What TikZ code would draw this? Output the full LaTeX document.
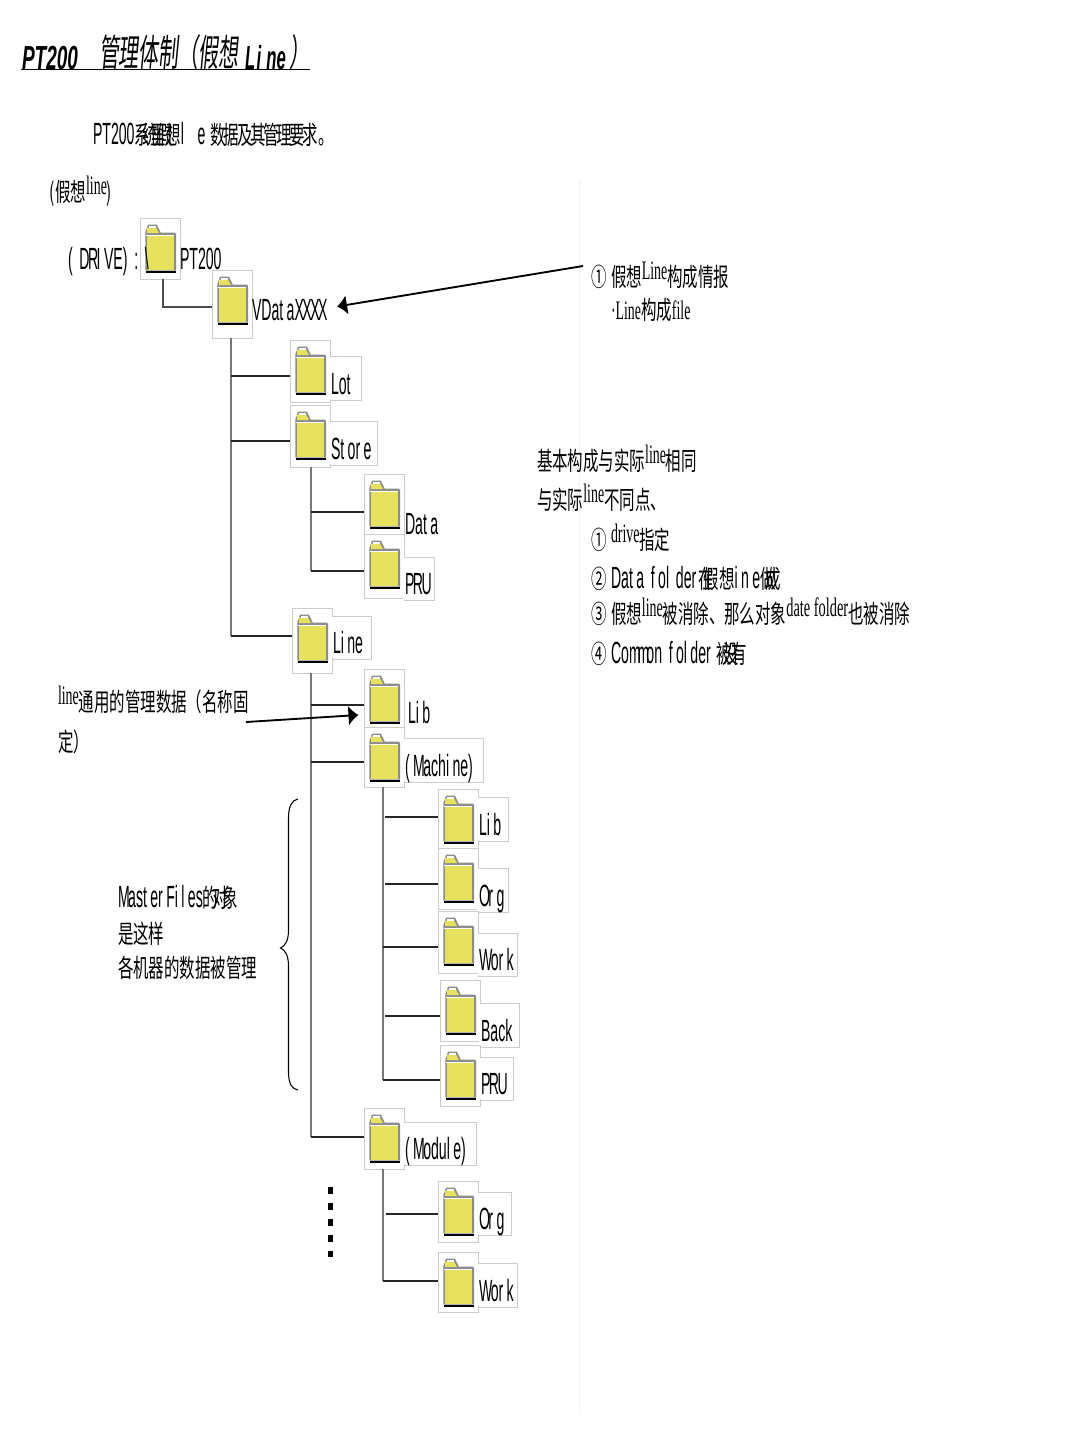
\documentclass[tikz,border=0pt]{standalone}
\usepackage{fontspec}
\usepackage{graphicx}
\usetikzlibrary{arrows.meta,positioning}
\newfontfamily\cjkf{Noto Sans CJK SC}
\newfontfamily\cjksl[FakeSlant=0.18]{Noto Sans CJK SC}
\newfontfamily\sansf{Liberation Sans}
\newfontfamily\serf{Liberation Serif}
\newcommand\Tcj[1]{\scalebox{.61}[1]{\fontsize{19}{19}\selectfont\cjkf #1}}
\newcommand\Tco[2][-38]{\scalebox{.61}[1]{\fontsize{19}{19}\selectfont\cjkf\addfontfeature{LetterSpace=#1}#2}}
\newcommand\Tsl[1]{\scalebox{.535}[1]{\fontsize{28}{28}\selectfont\cjksl #1}}
\newcommand\Tse[2][.52]{\raisebox{5pt}{\scalebox{#1}[1]{\fontsize{20}{20}\selectfont\serf #2}}}
\newcommand\Tsb[1]{\scalebox{.52}[1]{\fontsize{20}{20}\selectfont\serf #1}}
\newcommand\Tsa[1]{\scalebox{.46}[1]{\fontsize{23}{23}\selectfont\sansf #1}}
\newcommand\Tti[2][.57]{\scalebox{#1}[1]{\fontsize{25}{25}\selectfont\sansf\bfseries\itshape #2}}
\newcommand\gp{\kern5.5pt}
\newcommand\nk{\kern-2.5pt}
\definecolor{fboxc}{HTML}{CCCCCC}
\definecolor{fyel}{HTML}{E6E25E}
\definecolor{trunkc}{HTML}{777777}
\tikzset{
  x=.75pt,y=-.75pt,
  txt/.style={anchor=base west,inner sep=0pt,outer sep=0pt,text=black},
  fbox/.style={draw=fboxc,fill=white,line width=.6pt,inner sep=0pt,outer sep=0pt},
  trunk/.style={draw=trunkc,line width=1.6pt},
  branch/.style={draw=black!85,line width=1.6pt},
  arr/.style={draw=black,line width=1.4pt,-{Latex[length=7.5pt,width=15pt]}},
  foldericon/.pic={
    \fill[black!45] (.3,8.5) -- (3,.7) -- (12,.7) -- (15.7,8.5) -- (30,8.5) -- (31,10) -- (31,46.5) -- (.3,46.5) -- cycle;
    \fill[fyel] (2,3.5) -- (11,3.5) -- (14,9) -- (2,9) -- cycle;
    \fill[white] (3.5,2) rectangle (11,3.5);
    \fill[white] (1.2,10.5) rectangle (29.3,12);
    \fill[fyel] (1.7,12) rectangle (29.3,46);
    \fill[black] (1,46.5) rectangle (31,49);
  }
}
% folder without label box: name,left,top,bottom
\newcommand\fold[4]{%
  \node[fbox,minimum width=30pt,minimum height={(#4-#3)*.75pt}] (#1) at ({#2+20},{(#3+#4)/2}) {};
  \pic at (#2+5,#3+6) {foldericon};
}
% folder with label box: name,left,top,bottom,labeltop,labelright,labelbottom,text
\newcommand\foldl[8]{%
  \node[fbox,minimum width={(#6-#2-40)*.75pt},minimum height={(#7-#5)*.75pt}] (#1-l) at ({(#2+40+#6)/2},{(#5+#7)/2}) {};
  \fold{#1}{#2}{#3}{#4}
  \fill[white] (#2+39.3,#5+.6) rectangle (#2+40.8,#7-.6);
  \node[txt] (#1-t) at (#2+41,#7-6) {#8};
}
\begin{document}
\begin{tikzpicture}
\useasboundingbox[fill=white] (0,0) rectangle (1080,1440);
\coordinate (gl1) at (579,180); \coordinate (gl2) at (579,1410);
\draw[black!6,line width=.6pt] (gl1) -- (gl2);

% title
\node[txt] (ttl) at (22,69) {\Tti{PT200}};
\node[txt] (ttl2) at (99,66) {\Tsl{管理体制（假想}};
\node[txt] (ttl3) at (245,69) {\Tti[.5]{L\kern2pt i\kern8pt ne}};
\node[txt] (ttl4) at (289,66) {\Tsl{）}};
\coordinate (ul1) at (21,69.5); \coordinate (ul2) at (310,69.5);
\draw[black,line width=1pt] (ul1) -- (ul2);

\node[txt] (intro) at (93,144) {\Tsa{PT200}\Tco[-50]{系统里假想}\Tsa{l\kern22pt e}\kern4pt\Tco[-15]{数据及其管理要求}\Tcj{。}};
\node[txt] (virt) at (50,201) {\Tcj{(假想}\Tse{line}\Tcj{)}};

% folders
\fold{pt}{140}{218}{279}
\fold{vd}{212}{270}{338}
\foldl{lot}{290}{340}{402}{356}{361}{400}{\Tsa{Lot}}
\foldl{store}{290}{405}{467}{421}{377}{465}{\Tsa{St\gp or\gp e}}
\fold{data}{364}{474}{536}
\foldl{pru}{364}{534}{598}{557}{434}{600}{\Tsa{P\nk R\nk U}}
\foldl{line}{292}{608}{673}{616}{371}{659}{\Tsa{Li\gp ne}}
\fold{lib}{364}{669}{731}
\foldl{mach}{364}{727}{787}{738}{483}{782}{\Tsa{(\gp M\nk achi\gp ne)}}
\foldl{mlib}{438}{789}{850}{797}{508}{841}{\Tsa{Li\gp b}}
\foldl{morg}{438}{848}{909}{868}{508}{912}{\Tsa{O\nk r\gp g}}
\foldl{mwork}{438}{911}{973}{933}{517}{976}{\Tsa{W\nk or\gp k}}
\foldl{mback}{440}{980}{1041}{1003}{519}{1047}{\Tsa{Back}}
\foldl{mpru}{440}{1045}{1106}{1057}{513}{1100}{\Tsa{P\nk R\nk U}}
\foldl{mod}{364}{1108}{1169}{1122}{476}{1165}{\Tsa{(\gp M\nk odul\gp e)}}
\foldl{dorg}{438}{1181}{1242}{1192}{511}{1235}{\Tsa{O\nk r\gp g}}
\foldl{dwork}{438}{1252}{1312}{1263}{517}{1307}{\Tsa{W\nk or\gp k}}

% free labels of folders
\node[txt] (drive) at (68,269) {\Tsa{(\gp\gp D\nk R\nk I\gp VE)\gp\gp :\gp\gp\textbackslash}};
\node[txt] (ptl) at (180,269) {\Tsa{PT200}};
\node[txt] (vdl) at (252,320) {\Tsa{VDat\gp aX\nk X\nk X\nk X}};
\node[txt] (datal) at (405,534) {\Tsa{Dat\gp a}};
\node[txt] (libl) at (408,723) {\Tsa{Li\gp b}};

% connectors
\coordinate (b-vd) at (vd.west |- 0,307);
\draw[trunk,draw=black!70] ([xshift=2.25pt]pt.south) |- (b-vd);
\coordinate (b-lot) at (lot.west |- 0,376);
\coordinate (b-store) at (store.west |- 0,441);
\coordinate (b-line) at (line.west |- 0,636);
\coordinate (t-vd) at ([xshift=-.75pt]vd.south);
\draw[trunk] (t-vd) -- (t-vd |- b-line);
\draw[branch] (t-vd |- b-lot) -- (b-lot);
\draw[branch] (t-vd |- b-store) -- (b-store);
\draw[branch] (t-vd |- b-line) -- (b-line);
\coordinate (b-data) at (data.west |- 0,512);
\coordinate (b-pru) at (pru.west |- 0,571);
\coordinate (t-store) at ([xshift=.75pt]store.south);
\draw[trunk] (t-store) -- (t-store |- b-pru);
\draw[branch] (t-store |- b-data) -- (b-data);
\draw[branch] (t-store |- b-pru) -- (b-pru);
\coordinate (b-lib) at (lib.west |- 0,705);
\coordinate (b-mach) at (mach.west |- 0,762);
\coordinate (b-mod) at (mod.west |- 0,1137);
\coordinate (t-line) at ([xshift=-.75pt]line.south);
\draw[trunk] (t-line) -- (t-line |- b-mod);
\draw[branch] (t-line |- b-lib) -- (b-lib);
\draw[branch] (t-line |- b-mach) -- (b-mach);
\draw[branch] (t-line |- b-mod) -- (b-mod);
\coordinate (b-mlib) at (mlib.west |- 0,817);
\coordinate (b-morg) at (morg.west |- 0,884);
\coordinate (b-mwork) at (mwork.west |- 0,947);
\coordinate (b-mback) at (mback.west |- 0,1016);
\coordinate (b-mpru) at (mpru.west |- 0,1080);
\coordinate (t-mach) at ([xshift=-.75pt]mach.south);
\draw[trunk] (t-mach) -- (t-mach |- b-mpru);
\draw[branch] ([xshift=1.5pt]t-mach |- b-mlib) -- (b-mlib);
\draw[branch] ([xshift=1.5pt]t-mach |- b-morg) -- (b-morg);
\draw[branch] (t-mach |- b-mwork) -- (b-mwork);
\draw[branch] ([xshift=1.5pt]t-mach |- b-mback) -- (b-mback);
\draw[branch] (t-mach |- b-mpru) -- (b-mpru);
\coordinate (b-dorg) at (dorg.west |- 0,1214);
\coordinate (b-dwork) at (dwork.west |- 0,1281);
\coordinate (t-mod) at ([xshift=-.75pt]mod.south);
\draw[trunk] (t-mod) -- (t-mod |- b-dwork);
\draw[branch] ([xshift=2pt]t-mod |- b-dorg) -- (b-dorg);
\draw[branch] (t-mod |- b-dwork) -- (b-dwork);

% dotted continuation
\coordinate (dots1) at (330.5,1187); \coordinate (dots2) at (330.5,1257);
\draw[black,line width=3.4pt,dash pattern=on 5.25pt off 6.75pt] (dots1) -- (dots2);

% brace
\draw[black,line width=.8pt] (298,799) .. controls (292,800) and (288.5,806) .. (288.5,818)
  -- (288.5,930) .. controls (288.5,941) and (285,946) .. (280.5,948)
  .. controls (285,950) and (288.5,955) .. (288.5,966)
  -- (288.5,1072) .. controls (288.5,1084) and (292,1089) .. (298,1090);

% right notes
\node[txt] (n1c) at (591,286) {\Tcj{①}};
\node[txt] (n1) at (611,286) {\Tcj{假想}\Tse{Line}\Tcj{构成情报}};
\node[txt] (n1b) at (611,319) {\Tsb{·Line}\Tcj{构成}\Tsb{file}};
\node[txt] (s1) at (537,470) {\Tcj{基本构成与实际}\Tse{line}\Tcj{相同}};
\node[txt] (s2) at (537,509) {\Tcj{与实际}\Tse{line}\Tcj{不同点、}};
\node[txt] (c1) at (591,549) {\Tcj{①}};
\node[txt] (c1t) at (611,549) {\Tse{drive}\Tcj{指定}};
\node[txt] (c2) at (591,588) {\Tcj{②}};
\node[txt] (c2t) at (611,588) {\Tsa{Dat\gp a\gp\gp f\gp ol\gp\gp der}\kern1.5pt\Tco[-65]{在假}\Tcj{想}\Tsa{i\gp n\gp e}\Tco[-65]{做成}};
\node[txt] (c3) at (591,623) {\Tcj{③}};
\node[txt] (c3t) at (611,623) {\Tcj{假想}\Tse{line}\Tcj{被消除、那么对象}\Tse[.54]{date folder}\Tcj{也被消除}};
\node[txt] (c4) at (591,663) {\Tcj{④}};
\node[txt] (c4t) at (611,663) {\Tsa{Com\kern-5pt m\kern-5pt on\gp\gp f\gp ol\gp der}\kern4pt\Tco[-50]{被没有}};

% left notes
\node[txt] (l1) at (58,711) {\Tse{line}\Tcj{通用的管理数据（名称固}};
\node[txt] (l2) at (58,751) {\Tcj{定）}};
\node[txt] (m1) at (118,907) {\Tsa{M\nk ast\gp er\gp Fi\gp l\gp es}\Tco{的对象}};
\node[txt] (m2) at (118,943) {\Tcj{是这样}};
\node[txt] (m3) at (118,977) {\Tcj{各机器的数据被管理}};

% arrows
\coordinate (a1s) at (583,266); \coordinate (a1e) at (337,306.5);
\draw[arr] (a1s) -- (a1e);
\coordinate (a2s) at (246,722); \coordinate (a2e) at (358.5,715);
\draw[arr] (a2s) -- (a2e);
\end{tikzpicture}
\end{document}
